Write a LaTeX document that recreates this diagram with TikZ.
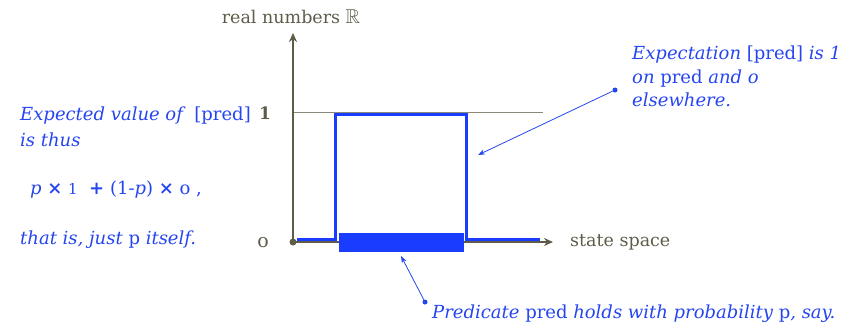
\documentclass[tikz,border=0pt]{standalone}
\usepackage{fontspec}
\usepackage{amssymb}
\setmainfont{DejaVu Serif}
\usetikzlibrary{arrows.meta}
\definecolor{axisc}{HTML}{5E5C48}
\definecolor{gridc}{HTML}{8A8878}
\definecolor{fblue}{HTML}{1A3CFF}
\definecolor{tblue}{HTML}{2545F0}
\begin{document}
\begin{tikzpicture}[x=1pt,y=-1pt,
  axis/.style={draw=axisc,line width=1.6pt,-{Stealth[length=9pt,width=8pt]}},
  lbl/.style={text=axisc,font=\fontsize{17.5}{20}\selectfont,inner sep=0pt},
  note/.style={text=tblue,font=\fontsize{18}{23.5}\selectfont\itshape,inner sep=0pt,align=left},
  pointer/.style={draw=tblue,line width=0.8pt,-{Stealth[length=7pt,width=5pt]}},
  dotc/.style={circle,fill=tblue,inner sep=0pt,minimum size=5pt}]
\useasboundingbox (0,0) rectangle (863,330);
% axes
\coordinate (o) at (293,242);
\coordinate (ytop) at (293,33);
\coordinate (xend) at (553,242);
\draw[gridc,line width=1pt] (293,112) -- (543,112);
\draw[axis] (o) -- (ytop);
\draw[axis] (o) -- (xend);
\fill[axisc] (o) circle (3.5pt);
% function
\draw[fblue,line width=3pt] (297,239) -- (335,239) -- (335,114.5) -- (466,114.5) -- (466,239) -- (540,239);
% predicate bar
\node[fill=fblue,minimum width=125pt,minimum height=19pt,inner sep=0pt] (bar) at (401.5,242.5) {};
% axis labels
\node[lbl] (yl) at (291,17) {real numbers {\fontsize{20}{20}\selectfont$\mathbb{R}$}};
\node[lbl,font=\fontsize{17}{20}\selectfont\bfseries] (one) at (265,113) {1};
\node[lbl,font=\fontsize{19}{20}\selectfont] (zero) at (263,243) {o};
\node[lbl,anchor=west] (ss) at (570,242) {state space};
% right note
\node[note,anchor=north west] (rn) at (632,46) {Expectation {\upshape[pred]} is 1\\on {\upshape pred} and o\\elsewhere.};
\node[dotc] (rd) at (615,90) {};
\coordinate (rt) at (478,155);
\draw[pointer] (rd) -- (rt);
% bottom note
\node[note,anchor=west] (bn) at (432,314) {Predicate {\upshape pred} holds with probability {\upshape p}, say.};
\node[dotc] (bd) at (425,302) {};
\coordinate (bt) at (401,256);
\draw[pointer] (bd) -- (bt);
% left note
\node[note,anchor=west] (l1) at (20,116) {Expected value of \ {\upshape[pred]}};
\node[note,anchor=west] (l2) at (20,140) {is thus};
\node[note,anchor=west] (l3) at (30,190) {p \textbf{\upshape×} {\upshape\fontsize{15}{20}\selectfont 1} \ \textbf{\upshape+} {\upshape(1-}p{\upshape)} \textbf{\upshape×} {\upshape o ,}};
\node[note,anchor=west] (l4) at (20,240) {that is, just {\upshape p} itself.};
\end{tikzpicture}
\end{document}
